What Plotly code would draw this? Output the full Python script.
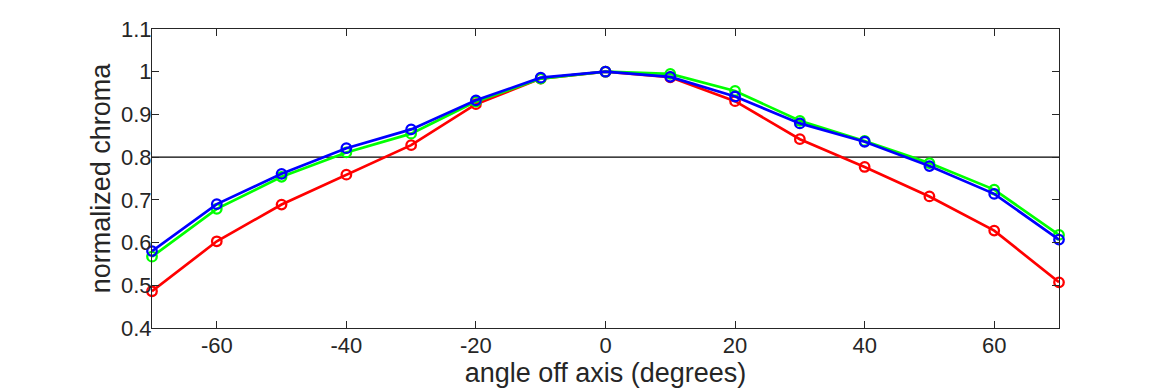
import plotly.graph_objects as go

angles = [-70, -60, -50, -40, -30, -20, -10, 0, 10, 20, 30, 40, 50, 60, 70]
red = [0.486, 0.603, 0.689, 0.759, 0.828, 0.924, 0.984, 1.0, 0.987, 0.931, 0.842, 0.777, 0.708, 0.628, 0.507]
green = [0.567, 0.679, 0.754, 0.811, 0.855, 0.930, 0.984, 1.0, 0.995, 0.955, 0.885, 0.838, 0.786, 0.724, 0.618]
blue = [0.580, 0.690, 0.761, 0.821, 0.865, 0.933, 0.986, 1.0, 0.988, 0.942, 0.879, 0.836, 0.779, 0.714, 0.607]
threshold = 0.8
xticks = [-60, -40, -20, 0, 20, 40, 60]
xticklabels = ["-60", "-40", "-20", "0", "20", "40", "60"]
yticks = [0.4, 0.5, 0.6, 0.7, 0.8, 0.9, 1.0, 1.1]
yticklabels = ["0.4", "0.5", "0.6", "0.7", "0.8", "0.9", "1", "1.1"]

FONT = "Liberation Sans, Arial, sans-serif"
TXT = "#262626"

fig = go.Figure()
fig.add_trace(go.Scatter(x=[-70, 70], y=[threshold, threshold], mode="lines",
                         line=dict(color="black", width=1.3), showlegend=False, hoverinfo="skip"))
for vals, col in [(red, "#ff0000"), (green, "#00ff00"), (blue, "#0000ff")]:
    fig.add_trace(go.Scatter(x=angles, y=vals, mode="lines+markers",
                             line=dict(color=col, width=2.7),
                             marker=dict(symbol="circle-open", size=9.5, color=col, line=dict(width=2.3, color=col)),
                             showlegend=False, cliponaxis=False))

axis_common = dict(showline=True, linecolor=TXT, linewidth=1, mirror="ticks",
                   ticks="inside", ticklen=7, tickcolor=TXT, showgrid=False, zeroline=False,
                   tickfont=dict(family=FONT, size=22, color=TXT))
fig.update_xaxes(range=[-70, 70], tickvals=xticks, ticktext=xticklabels,
                 ticklabelstandoff=-2,
                 title=dict(text="angle off axis (degrees)", standoff=2,
                            font=dict(family=FONT, size=27, color=TXT)),
                 **axis_common)
fig.update_yaxes(range=[0.4, 1.1], tickvals=yticks, ticktext=yticklabels,
                 ticklabelstandoff=-5,
                 title=dict(text="normalized chroma", standoff=2,
                            font=dict(family=FONT, size=27, color=TXT)),
                 **axis_common)
fig.update_layout(width=1170, height=390, margin=dict(l=144, r=119, t=21, b=70, autoexpand=False),
                  plot_bgcolor="white", paper_bgcolor="white")
fig.write_html("out.html")
